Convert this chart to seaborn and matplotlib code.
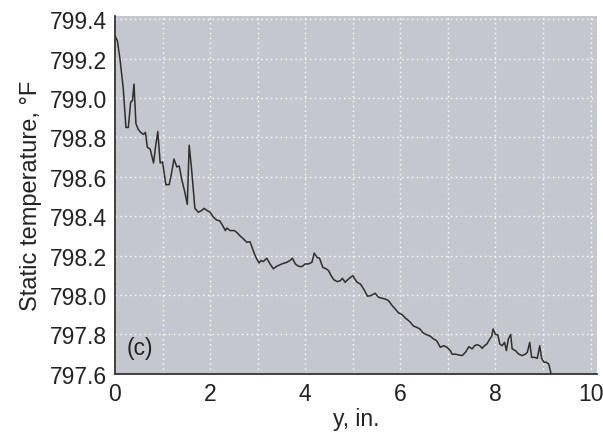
import matplotlib
matplotlib.use("Agg")
import matplotlib.pyplot as plt
import seaborn as sns
import pandas as pd

y_in = [0.00, 0.05, 0.105, 0.175, 0.23, 0.28, 0.33, 0.365, 0.40, 0.44, 0.49, 0.54, 0.60, 0.64,
        0.68, 0.74, 0.81, 0.86, 0.90, 0.95, 1.00, 1.07, 1.14, 1.19, 1.24, 1.30, 1.35, 1.40,
        1.47, 1.52, 1.56, 1.61, 1.68, 1.75, 1.83, 1.87, 1.93, 2.00, 2.07, 2.14, 2.20, 2.27,
        2.32, 2.35, 2.42, 2.51, 2.56, 2.63, 2.70, 2.77, 2.84, 2.88, 2.93, 2.98, 3.03, 3.07,
        3.12, 3.19, 3.26, 3.33, 3.40, 3.51, 3.61, 3.68, 3.73, 3.79, 3.86, 3.93, 4.00, 4.07,
        4.14, 4.19, 4.25, 4.30, 4.37, 4.44, 4.49, 4.54, 4.60, 4.67, 4.74, 4.78, 4.84, 4.91,
        5.00, 5.09, 5.16, 5.23, 5.31, 5.38, 5.47, 5.54, 5.61, 5.68, 5.75, 5.83, 5.89, 5.96,
        6.04, 6.11, 6.15, 6.21, 6.28, 6.34, 6.41, 6.48, 6.56, 6.63, 6.70, 6.76, 6.79, 6.84,
        6.91, 6.98, 7.05, 7.09, 7.16, 7.23, 7.30, 7.37, 7.44, 7.51, 7.56, 7.61, 7.67, 7.72,
        7.77, 7.82, 7.88, 7.92, 7.95, 8.00, 8.05, 8.09, 8.14, 8.19, 8.23, 8.27, 8.32, 8.35,
        8.42, 8.49, 8.56, 8.63, 8.67, 8.72, 8.76, 8.82, 8.88, 8.93, 8.97, 9.02, 9.07, 9.12,
        9.17]
temp_F = [799.315, 799.29, 799.197, 799.045, 798.85, 798.85, 798.98, 798.985, 799.07, 798.87,
          798.84, 798.825, 798.815, 798.825, 798.75, 798.74, 798.67, 798.765, 798.83, 798.67,
          798.675, 798.56, 798.56, 798.62, 798.69, 798.65, 798.655, 798.59, 798.52, 798.46,
          798.76, 798.64, 798.44, 798.42, 798.43, 798.44, 798.43, 798.42, 798.395, 798.38,
          798.377, 798.35, 798.327, 798.34, 798.327, 798.327, 798.318, 798.30, 798.285, 798.268,
          798.27, 798.243, 798.21, 798.183, 798.163, 798.175, 798.17, 798.187, 798.158, 798.133,
          798.146, 798.158, 798.166, 798.175, 798.187, 798.158, 798.146, 798.144, 798.158, 798.158,
          798.166, 798.213, 798.19, 798.187, 798.14, 798.133, 798.124, 798.10, 798.078, 798.068,
          798.073, 798.085, 798.065, 798.082, 798.098, 798.065, 798.056, 798.03, 797.994, 797.997,
          798.009, 797.989, 797.984, 797.98, 797.972, 797.946, 797.93, 797.91, 797.90, 797.882,
          797.875, 797.862, 797.842, 797.837, 797.828, 797.808, 797.798, 797.791, 797.777, 797.769,
          797.757, 797.735, 797.743, 797.735, 797.718, 797.70, 797.70, 797.696, 797.693, 797.71,
          797.738, 797.727, 797.743, 797.748, 797.743, 797.73, 797.743, 797.752, 797.777, 797.79,
          797.828, 797.80, 797.798, 797.752, 797.743, 797.76, 797.718, 797.777, 797.80, 797.727,
          797.718, 797.70, 797.693, 797.70, 797.71, 797.76, 797.684, 797.684, 797.679, 797.743,
          797.679, 797.659, 797.659, 797.65, 797.60]

x_ticks = [0, 2, 4, 6, 8, 10]
x_minor_ticks = [1, 3, 5, 7, 9]
y_ticks = [797.6, 797.8, 798.0, 798.2, 798.4, 798.6, 798.8, 799.0, 799.2, 799.4]
y_ticklabels = ["797.6", "797.8", "798.0", "798.2", "798.4", "798.6", "798.8", "799.0", "799.2", "799.4"]

sns.set_style("white", {"axes.facecolor": "#c4c7ce"})
plt.rcParams["font.family"] = ["Liberation Sans", "DejaVu Sans"]

df = pd.DataFrame({"y": y_in, "T": temp_F})

fig = plt.figure(figsize=(6.03, 4.39), dpi=100)
ax = fig.add_axes([0.1907, 0.146, 0.799, 0.815])
sns.lineplot(data=df, x="y", y="T", ax=ax, color="#2e2e2e", linewidth=1.1,
             estimator=None, sort=False)

ax.set_xlim(0, 10.13)
ax.set_ylim(797.6, 799.415)
ax.set_xticks(x_ticks)
ax.set_xticklabels([str(t) for t in x_ticks])
ax.set_xticks(x_minor_ticks, minor=True)
ax.set_yticks(y_ticks)
ax.set_yticklabels(y_ticklabels)

ax.grid(True, which="major", axis="y", color="white", linestyle=(0, (1, 2.5)), linewidth=1.0)
ax.grid(True, which="both", axis="x", color="white", linestyle=(0, (1, 2.5)), linewidth=1.0)
ax.set_axisbelow(True)

for s in ["top", "right"]:
    ax.spines[s].set_visible(False)
for s in ["left", "bottom"]:
    ax.spines[s].set_color("#333333")
    ax.spines[s].set_linewidth(1.3)

ax.tick_params(axis="both", which="major", direction="inout", length=7, width=1.2,
               color="#333333", labelsize=16.5, labelcolor="#222222", pad=2)
ax.tick_params(axis="x", which="minor", direction="inout", length=7, width=1.2,
               color="#333333")

ax.set_xlabel("y, in.", fontsize=16.5, color="#222222", labelpad=2)
ax.set_ylabel("Static temperature, °F", fontsize=17, color="#222222", labelpad=6)

ax.text(0.25, 797.735, "(c)", fontsize=16.5, color="#222222", va="center", ha="left")

fig.savefig("out.png", dpi=100)
